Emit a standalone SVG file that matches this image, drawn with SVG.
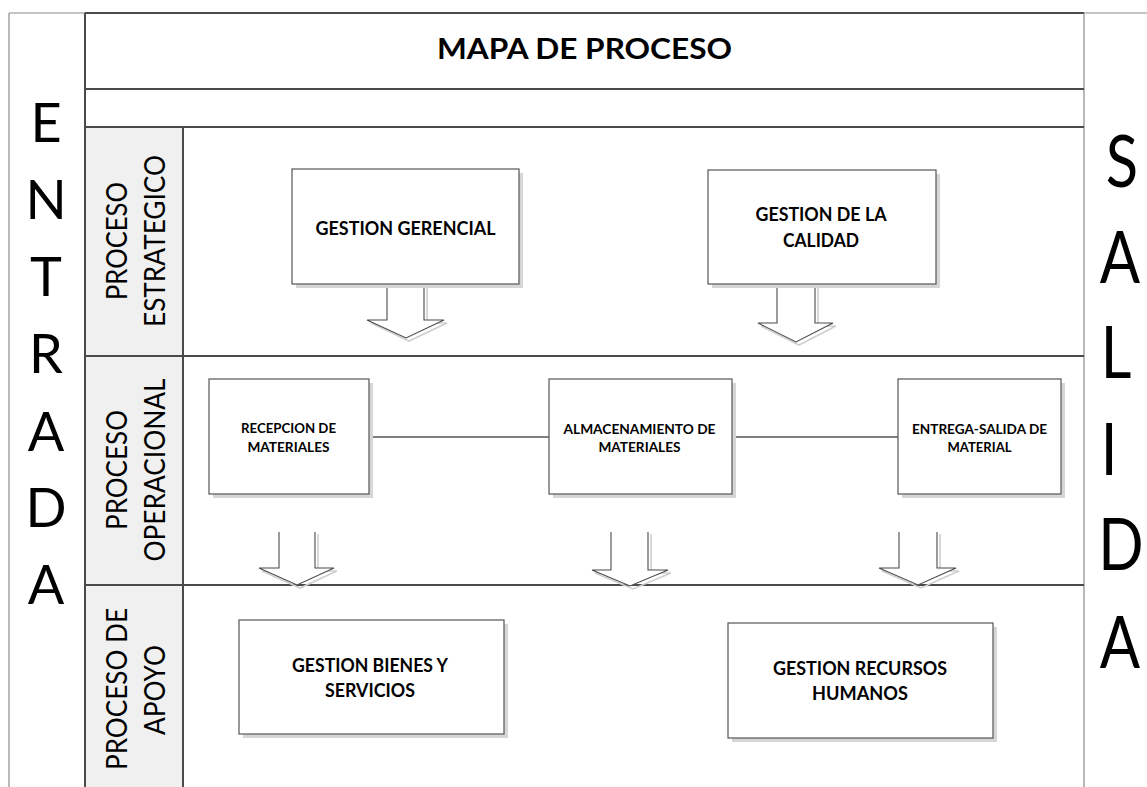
<svg xmlns="http://www.w3.org/2000/svg" width="1147" height="787" viewBox="0 0 1147 787">
<style>
.frame{fill:none;stroke:#8a8a8a;stroke-width:1.2}
.sep{fill:none;stroke:#4a4a4a;stroke-width:2}
.lab{fill:#f0f0f0;stroke:none}
.box{fill:#ffffff;stroke:#555555;stroke-width:1.2}
.sh{fill:#d6d6d6;stroke:none}
.conn{stroke:#000000;stroke-width:1.2;fill:none}
.arr{fill:#ffffff;stroke:#4a4a4a;stroke-width:1.1}
.arrsh{fill:none;stroke:#cfcfcf;stroke-width:1.6}
.big{font-family:Lato,"Open Sans",sans-serif;fill:#000}
.sal{font-family:Lato,"Open Sans",sans-serif;fill:#000;font-size:71px;text-anchor:middle}
.vl{font-family:Lato,"Open Sans",sans-serif;font-size:29px;fill:#000;text-anchor:middle}
.bt{font-family:Lato,"Open Sans",sans-serif;font-weight:bold;fill:#000;text-anchor:middle}
</style>
<rect x="0" y="0" width="1147" height="787" fill="#ffffff"/>
<g id="frame">
<rect class="lab" x="85" y="127" width="98" height="660"/>
<line class="frame" x1="9" y1="13" x2="9" y2="787"/>
<line class="frame" x1="9" y1="13" x2="85" y2="13"/>
<line class="frame" x1="1084" y1="13" x2="1147" y2="13"/>
<line class="sep" x1="85" y1="13" x2="1084" y2="13"/>
<line class="sep" x1="85" y1="13" x2="85" y2="787"/>
<line class="frame" x1="1084" y1="13" x2="1084" y2="787"/>
<line class="sep" x1="85" y1="89" x2="1084" y2="89"/>
<line class="sep" x1="85" y1="127" x2="1084" y2="127"/>
<line class="sep" x1="183" y1="127" x2="183" y2="787"/>
<line class="sep" x1="85" y1="356" x2="1084" y2="356"/>
<line class="sep" x1="85" y1="585" x2="1084" y2="585"/>
</g>
<g id="title">
<text class="bt" x="584.5" y="59" font-size="29" textLength="295" lengthAdjust="spacingAndGlyphs">MAPA DE PROCESO</text>
</g>
<g id="entrada">
<text class="big" font-size="54" text-anchor="middle" x="46" y="142">E</text>
<text class="big" font-size="54" text-anchor="middle" x="46" y="219">N</text>
<text class="big" font-size="54" text-anchor="middle" x="46" y="296">T</text>
<text class="big" font-size="54" text-anchor="middle" x="46" y="373">R</text>
<text class="big" font-size="54" text-anchor="middle" x="46" y="451">A</text>
<text class="big" font-size="54" text-anchor="middle" x="46" y="527">D</text>
<text class="big" font-size="54" text-anchor="middle" x="46" y="604">A</text>
</g>
<g id="salida">
<text class="sal" transform="translate(1122,187) scale(0.84,1)">S</text>
<text class="sal" transform="translate(1120,283) scale(0.84,1)">A</text>
<text class="sal" transform="translate(1116,378) scale(0.84,1)">L</text>
<text class="sal" transform="translate(1109,475) scale(0.84,1)">I</text>
<text class="sal" transform="translate(1121,570) scale(0.84,1)">D</text>
<text class="sal" transform="translate(1120,668) scale(0.84,1)">A</text>
</g>
<g id="lbl-estrategico">
<text class="vl" transform="translate(127,241) rotate(-90)" textLength="118" lengthAdjust="spacingAndGlyphs">PROCESO</text>
<text class="vl" transform="translate(165,241) rotate(-90)" textLength="172" lengthAdjust="spacingAndGlyphs">ESTRATEGICO</text>
</g>
<g id="lbl-operacional">
<text class="vl" transform="translate(127,470) rotate(-90)" textLength="120" lengthAdjust="spacingAndGlyphs">PROCESO</text>
<text class="vl" transform="translate(165,470) rotate(-90)" textLength="183" lengthAdjust="spacingAndGlyphs">OPERACIONAL</text>
</g>
<g id="lbl-apoyo">
<text class="vl" transform="translate(127,689) rotate(-90)" textLength="162" lengthAdjust="spacingAndGlyphs">PROCESO DE</text>
<text class="vl" transform="translate(165,690) rotate(-90)" textLength="90" lengthAdjust="spacingAndGlyphs">APOYO</text>
</g>
<g id="connectors">
<line class="conn" x1="369" y1="437" x2="549" y2="437"/>
<line class="conn" x1="732" y1="437" x2="898" y2="437"/>
<polyline class="arrsh" points="390,286 390,323 371,323 409,341 447,323 427,323 427,286"/>
<polyline class="arr" points="387,284 387,320 367,320 406,338 444,320 424,320 424,284"/>
<polyline class="arrsh" points="780,286 780,326 761,326 799,345 836,326 818,326 818,286"/>
<polyline class="arr" points="777,284 777,323 758,323 796,342 833,323 815,323 815,284"/>
<polyline class="arrsh" points="282,534 282,571 262,571 300,588 337,571 318,571 318,534"/>
<polyline class="arr" points="279,532 279,568 259,568 297,585 334,568 315,568 315,532"/>
<polyline class="arrsh" points="614,534 614,573 595,573 633,589 671,573 651,573 651,534"/>
<polyline class="arr" points="611,532 611,570 592,570 630,586 668,570 648,570 648,532"/>
<polyline class="arrsh" points="902,534 902,571 882,571 921,588 959,571 940,571 940,534"/>
<polyline class="arr" points="899,532 899,568 879,568 918,585 956,568 937,568 937,532"/>
</g>
<g id="gestion-gerencial">
<rect class="sh" x="296" y="173" width="227" height="115"/>
<rect class="box" x="292" y="169" width="227" height="115"/>
<text class="bt" x="405.5" y="235" font-size="18" textLength="180" lengthAdjust="spacingAndGlyphs">GESTION GERENCIAL</text>
</g>
<g id="gestion-calidad">
<rect class="sh" x="712" y="174" width="228" height="114"/>
<rect class="box" x="708" y="170" width="228" height="114"/>
<text class="bt" x="821" y="221" font-size="18" textLength="131" lengthAdjust="spacingAndGlyphs">GESTION DE LA</text>
<text class="bt" x="821" y="247" font-size="18" textLength="76" lengthAdjust="spacingAndGlyphs">CALIDAD</text>
</g>
<g id="recepcion">
<rect class="sh" x="213" y="383" width="160" height="115"/>
<rect class="box" x="209" y="379" width="160" height="115"/>
<text class="bt" x="288.5" y="433" font-size="14" textLength="95" lengthAdjust="spacingAndGlyphs">RECEPCION DE</text>
<text class="bt" x="288.5" y="452" font-size="14" textLength="82" lengthAdjust="spacingAndGlyphs">MATERIALES</text>
</g>
<g id="almacenamiento">
<rect class="sh" x="553" y="383" width="183" height="115"/>
<rect class="box" x="549" y="379" width="183" height="115"/>
<text class="bt" x="639.5" y="434" font-size="14" textLength="152" lengthAdjust="spacingAndGlyphs">ALMACENAMIENTO DE</text>
<text class="bt" x="639.5" y="452" font-size="14" textLength="82" lengthAdjust="spacingAndGlyphs">MATERIALES</text>
</g>
<g id="entrega">
<rect class="sh" x="902" y="383" width="163" height="115"/>
<rect class="box" x="898" y="379" width="163" height="115"/>
<text class="bt" x="979.5" y="434" font-size="14" textLength="135" lengthAdjust="spacingAndGlyphs">ENTREGA-SALIDA DE</text>
<text class="bt" x="979.5" y="452" font-size="14" textLength="64" lengthAdjust="spacingAndGlyphs">MATERIAL</text>
</g>
<g id="gestion-bienes">
<rect class="sh" x="243" y="624" width="265" height="114"/>
<rect class="box" x="239" y="620" width="265" height="114"/>
<text class="bt" x="370" y="672" font-size="18" textLength="156" lengthAdjust="spacingAndGlyphs">GESTION BIENES Y</text>
<text class="bt" x="370" y="697" font-size="18" textLength="90" lengthAdjust="spacingAndGlyphs">SERVICIOS</text>
</g>
<g id="gestion-rrhh">
<rect class="sh" x="732" y="627" width="265" height="115"/>
<rect class="box" x="728" y="623" width="265" height="115"/>
<text class="bt" x="860" y="675" font-size="18" textLength="174" lengthAdjust="spacingAndGlyphs">GESTION RECURSOS</text>
<text class="bt" x="860" y="700" font-size="18" textLength="96" lengthAdjust="spacingAndGlyphs">HUMANOS</text>
</g>
</svg>
